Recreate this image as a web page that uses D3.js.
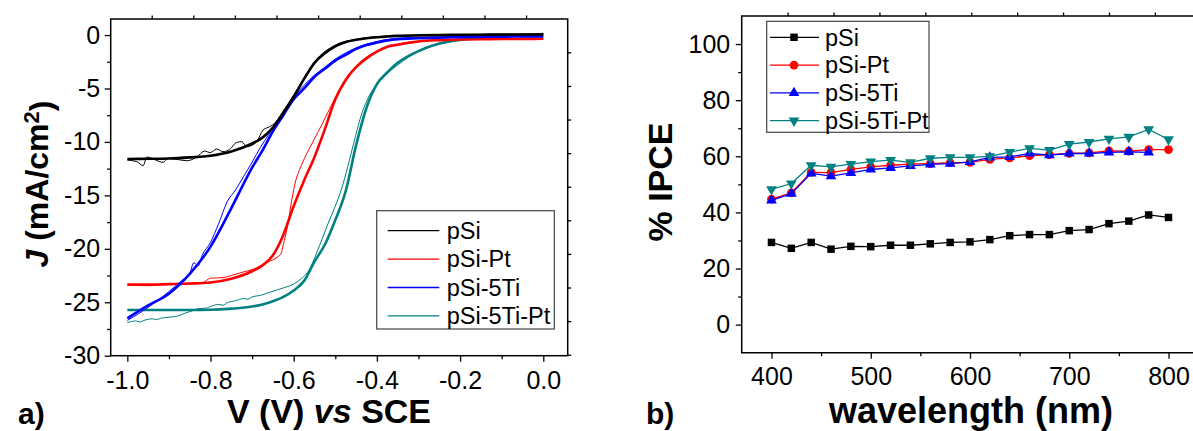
<!DOCTYPE html>
<html>
<head>
<meta charset="utf-8">
<script src="https://cdn.jsdelivr.net/npm/d3@7"></script>
<style>
    body { margin: 0; background: #fff; }
    svg { display: block; font-family: Arial, "Liberation Sans", sans-serif; }
</style>
</head>
<body>
<svg id="chart" width="1193" height="431"></svg>
<script>
// ---- data: a) J-V curves ----
const seriesNames = ["pSi", "pSi-Pt", "pSi-5Ti", "pSi-5Ti-Pt"];
const seriesColors = ["#000000", "#ff0000", "#0000ff", "#008080"];

const jvVoltage = [-1.0, -0.95, -0.9, -0.85, -0.8, -0.75, -0.7, -0.675, -0.65, -0.625, -0.6, -0.575, -0.55,
    -0.525, -0.5, -0.475, -0.45, -0.425, -0.4, -0.375, -0.35, -0.3, -0.25, -0.2, -0.15, -0.1, -0.05, 0.0];
// fitted (thick) curves, mA/cm2
const jvPSi = [-11.6, -11.58, -11.55, -11.45, -11.3, -10.9, -10.15, -9.6, -8.65, -7.3, -5.8, -4.1, -2.6,
    -1.7, -1.05, -0.65, -0.45, -0.3, -0.2, -0.13, -0.08, -0.03, 0, 0.02, 0.03, 0.04, 0.05, 0.05];
const jvPSiPt = [-23.35, -23.35, -23.3, -23.25, -23.15, -22.8, -22.1, -21.55, -20.6, -18.7, -16.0, -13.6, -11.4,
    -8.8, -6.0, -4.2, -3.0, -2.18, -1.55, -1.1, -0.9, -0.6, -0.48, -0.42, -0.39, -0.37, -0.36, -0.35];
const jvPSi5Ti = [-26.5, -25.3, -24.2, -22.35, -19.8, -16.2, -12.4, -10.8, -9.0, -7.5, -6.0, -5.0, -3.9,
    -3.15, -2.4, -1.85, -1.3, -0.94, -0.7, -0.5, -0.38, -0.3, -0.24, -0.2, -0.17, -0.15, -0.14, -0.13];
const jvPSi5TiPt = [-25.72, -25.72, -25.72, -25.72, -25.7, -25.6, -25.4, -25.2, -24.9, -24.5, -23.9, -23.0, -21.2,
    -19.6, -17.3, -14.6, -10.3, -6.8, -4.6, -3.5, -2.6, -1.5, -0.8, -0.45, -0.3, -0.15, -0.02, 0.1];

// measured (thin) scans as [V, J]
const scanPSi = [[-1.0, -11.7], [-0.993, -11.73], [-0.977, -11.85], [-0.962, -12.22], [-0.953, -11.41], [-0.938, -11.6],
    [-0.914, -11.91], [-0.902, -11.54], [-0.881, -11.63], [-0.857, -11.76], [-0.833, -11.41], [-0.814, -10.85],
    [-0.801, -11.01], [-0.785, -10.66], [-0.77, -10.91], [-0.754, -10.7], [-0.737, -10.04], [-0.725, -9.98],
    [-0.713, -10.45], [-0.689, -9.98], [-0.674, -8.89], [-0.658, -8.58], [-0.646, -8.26], [-0.625, -7.1],
    [-0.6, -5.6], [-0.575, -4.0], [-0.55, -2.5], [-0.5, -0.95], [-0.45, -0.4], [-0.4, -0.15], [-0.3, 0.0], [0.0, 0.1]];
const scanPSiPt = [[-1.0, -23.4], [-0.95, -23.45], [-0.9, -23.35], [-0.85, -23.3], [-0.82, -23.2], [-0.8, -22.75],
    [-0.77, -22.7], [-0.75, -22.5], [-0.72, -22.15], [-0.7, -21.95], [-0.68, -21.6], [-0.66, -21.2], [-0.64, -20.8],
    [-0.63, -20.4], [-0.625, -19.6], [-0.615, -17.9], [-0.605, -15.5], [-0.595, -13.6], [-0.586, -12.6],
    [-0.57, -11.2], [-0.554, -10.0], [-0.53, -8.2], [-0.506, -6.3], [-0.48, -4.4], [-0.45, -2.9], [-0.4, -1.5],
    [-0.35, -0.85], [-0.3, -0.58], [-0.2, -0.42], [0.0, -0.35]];
const scanPSi5Ti = [[-1.0, -26.7], [-0.97, -26.0], [-0.94, -25.2], [-0.9, -24.0], [-0.87, -23.0], [-0.85, -22.3],
    [-0.84, -21.3], [-0.83, -21.6], [-0.82, -20.6], [-0.8, -19.4], [-0.78, -17.6], [-0.76, -15.6], [-0.74, -14.5],
    [-0.72, -13.2], [-0.7, -11.9], [-0.68, -10.5], [-0.66, -9.3], [-0.64, -8.0], [-0.62, -6.9], [-0.6, -5.8],
    [-0.575, -4.7], [-0.55, -3.75], [-0.525, -3.0], [-0.5, -2.25], [-0.45, -1.2], [-0.4, -0.6], [-0.35, -0.32],
    [-0.3, -0.22], [-0.2, -0.16], [0.0, -0.1]];
const scanPSi5TiPt = [[-1.0, -26.9], [-0.98, -26.75], [-0.97, -26.85], [-0.96, -26.7], [-0.94, -26.55], [-0.93, -26.62],
    [-0.92, -26.5], [-0.9, -26.4], [-0.88, -26.3], [-0.86, -26.0], [-0.84, -25.75], [-0.83, -25.6], [-0.81, -25.55],
    [-0.8, -25.4], [-0.78, -25.2], [-0.77, -25.28], [-0.76, -25.05], [-0.74, -24.85], [-0.72, -24.65], [-0.71, -24.72],
    [-0.7, -24.5], [-0.68, -24.35], [-0.66, -24.1], [-0.64, -23.85], [-0.62, -23.6], [-0.6, -23.3], [-0.585, -22.9],
    [-0.562, -21.9], [-0.545, -20.4], [-0.53, -18.9], [-0.515, -17.4], [-0.5, -16.0], [-0.485, -14.4], [-0.47, -12.3],
    [-0.455, -10.0], [-0.44, -7.8], [-0.42, -5.8], [-0.39, -4.2], [-0.35, -2.8], [-0.3, -1.55], [-0.25, -0.85],
    [-0.2, -0.45], [-0.15, -0.25], [0.0, 0.1]];

const vTicks = [-1.0, -0.8, -0.6, -0.4, -0.2, 0.0];
const vMinorTicks = [-0.9, -0.7, -0.5, -0.3, -0.1];
const jTicks = [0, -5, -10, -15, -20, -25, -30];
const jMinorTicks = [-2.5, -7.5, -12.5, -17.5, -22.5, -27.5];

// ---- data: b) IPCE ----
const wavelength = [400, 420, 440, 460, 480, 500, 520, 540, 560, 580, 600, 620, 640, 660, 680, 700, 720, 740, 760, 780, 800];
const ipcePSi = [29.3, 27.2, 29.3, 26.9, 27.9, 27.8, 28.3, 28.3, 28.8, 29.3, 29.5, 30.3, 31.7, 32.1, 32.1, 33.5, 33.9, 36.0, 36.9, 39.1, 38.2];
const ipcePSiPt = [44.7, 47.0, 54.3, 54.2, 55.3, 56.2, 56.8, 57.2, 57.4, 57.7, 57.8, 58.9, 59.4, 60.2, 60.6, 61.0, 61.2, 61.9, 61.8, 62.4, 62.4];
const ipcePSi5Ti = [44.3, 46.7, 53.9, 52.9, 54.1, 55.3, 55.9, 56.6, 57.1, 57.4, 58.0, 59.6, 59.8, 61.0, 60.4, 61.0, 61.0, 61.4, 61.6, 61.4, null];
const ipcePSi5TiPt = [48.2, 50.3, 56.8, 56.2, 57.2, 58.1, 58.6, 57.8, 59.3, 59.6, 59.6, 60.0, 61.5, 62.8, 62.2, 64.3, 65.1, 66.2, 66.9, 69.6, 66.0];

const wlTicks = [400, 500, 600, 700, 800];
const wlMinorTicks = [450, 550, 650, 750];
const ipceTicks = [0, 20, 40, 60, 80, 100];
const ipceMinorTicks = [10, 30, 50, 70, 90];

const svg = d3.select("#chart");
const fontFamily = "Arial, 'Liberation Sans', sans-serif";
const tickFont = 25;
const legendFont = 23.5;

function styleAxis(g) {
    g.attr("font-family", fontFamily).attr("font-size", tickFont);
    g.select(".domain").remove();
    g.selectAll(".tick line").attr("stroke", "#000").attr("stroke-width", 1.3);
    g.selectAll(".tick text").attr("fill", "#000")
        .style("font-family", fontFamily).style("font-size", tickFont + "px");
}

// ================= a) =================
const a = { left: 110.7, right: 567.7, top: 19, bottom: 355.7 };
const xV = d3.scaleLinear().domain([-1.04, 0.0587]).range([a.left, a.right]);
const yJ = d3.scaleLinear().domain([-30, 1.5]).range([a.bottom, a.top]);

const gA = svg.append("g");

gA.append("g").attr("transform", `translate(0,${a.bottom})`)
    .call(d3.axisBottom(xV).tickValues(vTicks).tickSize(6).tickPadding(10).tickFormat(d => d.toFixed(1)))
    .call(styleAxis);
gA.append("g").attr("transform", `translate(0,${a.bottom})`)
    .call(d3.axisBottom(xV).tickValues(vMinorTicks).tickSize(3.5).tickFormat(""))
    .call(styleAxis);
gA.append("g").attr("transform", `translate(${a.left},0)`)
    .call(d3.axisLeft(yJ).tickValues(jTicks).tickSize(6).tickPadding(4.5).tickFormat(d => String(d)))
    .call(styleAxis);
gA.append("g").attr("transform", `translate(${a.left},0)`)
    .call(d3.axisLeft(yJ).tickValues(jMinorTicks).tickSize(3.5).tickFormat(""))
    .call(styleAxis);

// top axis (shifted potential scale), ticks only
const rheShift = 0.0414;
const xTop = d3.scaleLinear().domain(xV.domain().map(v => v + rheShift)).range(xV.range());
gA.append("g").attr("transform", `translate(0,${a.top})`)
    .call(d3.axisTop(xTop).tickValues(d3.range(-9, 1).map(k => k / 10)).tickSize(3.5).tickFormat(""))
    .call(styleAxis);
// right axis, ticks only
const yRight = d3.scaleLinear().domain([0, 10]).range([yJ(-1.62), yJ(-1.62 - 10 * 3.143)]);
gA.append("g").attr("transform", `translate(${a.right},0)`)
    .call(d3.axisRight(yRight).tickValues(d3.range(0, 10)).tickSize(3.5).tickFormat(""))
    .call(styleAxis);

gA.append("rect")
    .attr("x", a.left).attr("y", a.top)
    .attr("width", a.right - a.left).attr("height", a.bottom - a.top)
    .attr("fill", "none").attr("stroke", "#000").attr("stroke-width", 1.5);

const jvLine = d3.line().x(d => xV(d[0])).y(d => yJ(d[1])).curve(d3.curveMonotoneX);
const fits = [jvPSi, jvPSiPt, jvPSi5Ti, jvPSi5TiPt];
const scans = [scanPSi, scanPSiPt, scanPSi5Ti, scanPSi5TiPt];
const drawOrder = [3, 1, 2, 0];

drawOrder.forEach(i => {
    gA.append("path")
        .attr("d", jvLine(scans[i]))
        .attr("fill", "none").attr("stroke", seriesColors[i]).attr("stroke-width", 1);
    gA.append("path")
        .attr("d", jvLine(jvVoltage.map((v, k) => [v, fits[i][k]])))
        .attr("fill", "none").attr("stroke", seriesColors[i]).attr("stroke-width", 2.6);
});

// legend a
const legA = gA.append("g").attr("transform", "translate(376.7,210.7)");
legA.append("rect").attr("width", 177.6).attr("height", 118.3)
    .attr("fill", "#fff").attr("stroke", "#444").attr("stroke-width", 1.2);
seriesNames.forEach((name, i) => {
    const y = 20 + i * 28.4;
    legA.append("line").attr("x1", 11).attr("x2", 62.6).attr("y1", y).attr("y2", y)
        .attr("stroke", seriesColors[i]).attr("stroke-width", 1.3);
    legA.append("text").attr("x", 70).attr("y", y).attr("dy", "0.35em")
        .style("font-size", legendFont + "px").text(name);
});

gA.append("text")
    .attr("x", 329).attr("y", 423).attr("text-anchor", "middle")
    .style("font-size", "34px").style("font-weight", "bold")
    .call(t => {
        t.append("tspan").text("V (V) ");
        t.append("tspan").style("font-style", "italic").text("vs");
        t.append("tspan").text(" SCE");
    });
gA.append("text")
    .attr("transform", "translate(48,184) rotate(-90)")
    .attr("text-anchor", "middle")
    .style("font-size", "32px").style("font-weight", "bold")
    .call(t => {
        t.append("tspan").style("font-style", "italic").text("J");
        t.append("tspan").text(" (mA/cm");
        t.append("tspan").attr("dy", "-0.4em").style("font-size", "22px").text("2");
        t.append("tspan").attr("dy", "0.4em").text(")");
    });
gA.append("text").attr("x", 18).attr("y", 424)
    .style("font-size", "30px").style("font-weight", "bold").text("a)");

// ================= b) =================
const b = { left: 741.7, right: 1198.3, top: 16, bottom: 352.7 };
const xW = d3.scaleLinear().domain([370, 830]).range([b.left, b.right]);
const yI = d3.scaleLinear().domain([-10, 110]).range([b.bottom, b.top]);

const gB = svg.append("g");

gB.append("g").attr("transform", `translate(0,${b.bottom})`)
    .call(d3.axisBottom(xW).tickValues(wlTicks).tickSize(6).tickPadding(8.5).tickFormat(d3.format("d")))
    .call(styleAxis);
gB.append("g").attr("transform", `translate(0,${b.bottom})`)
    .call(d3.axisBottom(xW).tickValues(wlMinorTicks).tickSize(3.5).tickFormat(""))
    .call(styleAxis);
gB.append("g").attr("transform", `translate(${b.left},0)`)
    .call(d3.axisLeft(yI).tickValues(ipceTicks).tickSize(6).tickPadding(5.5).tickFormat(d3.format("d")))
    .call(styleAxis);
gB.append("g").attr("transform", `translate(${b.left},0)`)
    .call(d3.axisLeft(yI).tickValues(ipceMinorTicks).tickSize(3.5).tickFormat(""))
    .call(styleAxis);
// top axis ticks only (secondary scale)
const xTopB = d3.scaleLinear().domain([0, 10]).range([xW(370), xW(370 + 10 * 46.25)]);
gB.append("g").attr("transform", `translate(0,${b.top})`)
    .call(d3.axisTop(xTopB).tickValues(d3.range(1, 10)).tickSize(3.5).tickFormat(""))
    .call(styleAxis);

gB.append("path")
    .attr("d", `M${b.right},${b.top}H${b.left}V${b.bottom}H${b.right}`)
    .attr("fill", "none").attr("stroke", "#000").attr("stroke-width", 1.5);

const ipceSeries = [ipcePSi, ipcePSiPt, ipcePSi5Ti, ipcePSi5TiPt];
const symbols = [
    { type: d3.symbolSquare, size: 56, rot: 0 },
    { type: d3.symbolCircle, size: 60, rot: 0 },
    { type: d3.symbolTriangle, size: 50, rot: 0 },
    { type: d3.symbolTriangle, size: 50, rot: 180 }
];
const ipceLine = d3.line().defined(d => d[1] != null).x(d => xW(d[0])).y(d => yI(d[1]));

ipceSeries.forEach((vals, i) => {
    const pts = wavelength.map((w, k) => [w, vals[k]]);
    gB.append("path").attr("d", ipceLine(pts))
        .attr("fill", "none").attr("stroke", seriesColors[i]).attr("stroke-width", 1.3);
    gB.selectAll(null).data(pts.filter(d => d[1] != null)).join("path")
        .attr("transform", d => `translate(${xW(d[0])},${yI(d[1])}) rotate(${symbols[i].rot})`)
        .attr("d", d3.symbol(symbols[i].type, symbols[i].size))
        .attr("fill", seriesColors[i]);
});

// legend b
const legB = gB.append("g").attr("transform", "translate(766.7,21.3)");
legB.append("rect").attr("width", 162.3).attr("height", 111)
    .attr("fill", "#fff").attr("stroke", "#444").attr("stroke-width", 1.2);
seriesNames.forEach((name, i) => {
    const y = 16 + i * 27.8;
    legB.append("line").attr("x1", 3.3).attr("x2", 52.3).attr("y1", y).attr("y2", y)
        .attr("stroke", seriesColors[i]).attr("stroke-width", 1.3);
    legB.append("path")
        .attr("transform", `translate(27.3,${y}) rotate(${symbols[i].rot})`)
        .attr("d", d3.symbol(symbols[i].type, symbols[i].size))
        .attr("fill", seriesColors[i]);
    legB.append("text").attr("x", 58.3).attr("y", y).attr("dy", "0.35em")
        .style("font-size", legendFont + "px").text(name);
});

gB.append("text")
    .attr("x", 971).attr("y", 423).attr("text-anchor", "middle")
    .style("font-size", "36px").style("font-weight", "bold")
    .text("wavelength (nm)");
gB.append("text")
    .attr("transform", "translate(672,182) rotate(-90)")
    .attr("text-anchor", "middle")
    .style("font-size", "34px").style("font-weight", "bold")
    .text("% IPCE");
gB.append("text").attr("x", 646).attr("y", 424)
    .style("font-size", "30px").style("font-weight", "bold").text("b)");
</script>
</body>
</html>
